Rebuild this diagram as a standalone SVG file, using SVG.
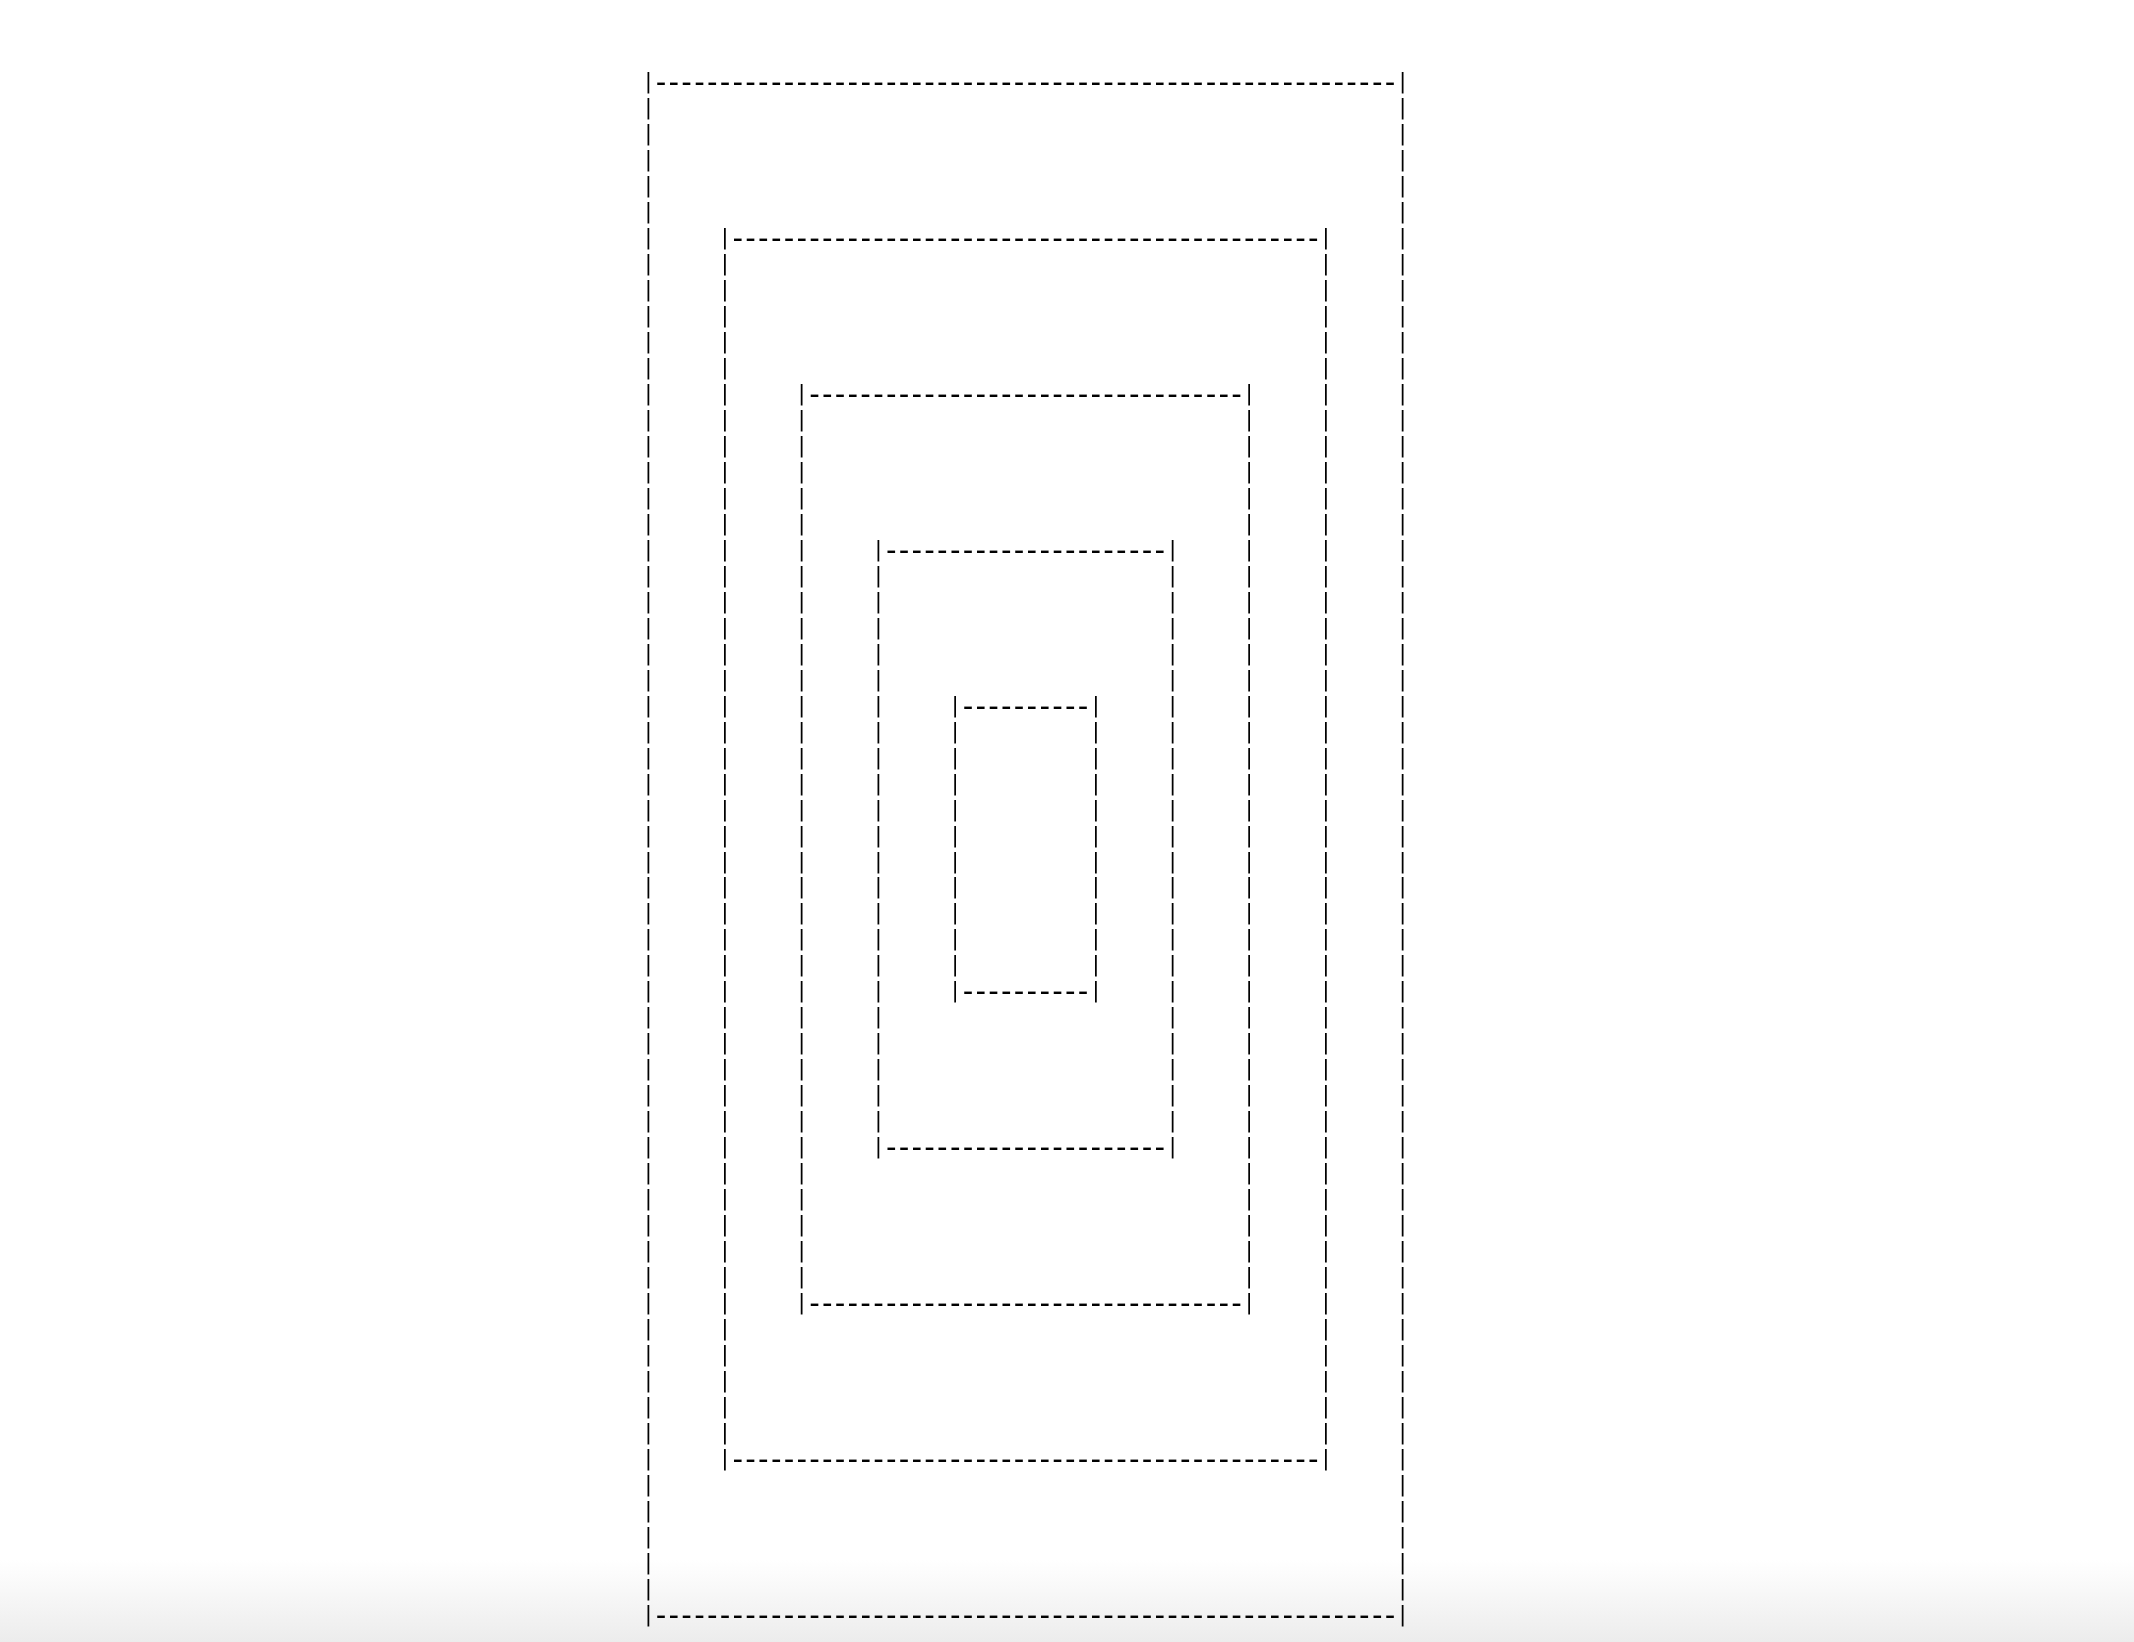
<svg xmlns="http://www.w3.org/2000/svg" xmlns:xlink="http://www.w3.org/1999/xlink" width="2134" height="1642" viewBox="0 0 2134 1642">
<style>
.t{font-family:"DejaVu Sans Mono","Liberation Mono",monospace;font-size:21.24px;fill:#000;}
.d{font-family:"DejaVu Sans Mono","Liberation Mono",monospace;font-size:30px;letter-spacing:-5.274px;fill:#000;}
.box{opacity:0.999;}
</style>
<defs>
<linearGradient id="bot" x1="0" y1="0" x2="0" y2="1">
<stop offset="0" stop-color="#ffffff"/>
<stop offset="1" stop-color="#ececec"/>
</linearGradient>
<text id="bars0" class="t" x="0 0 0 0 0 0 0 0 0 0 0 0 0 0 0 0 0 0 0 0 0 0 0 0 0 0 0 0 0 0 0 0 0 0 0 0 0 0 0 0 0 0 0 0 0 0 0 0 0 0 0 0 0 0 0 0 0 0 0 0" y="89.9 115.87 141.84 167.81 193.78 219.75 245.72 271.69 297.66 323.63 349.6 375.57 401.54 427.51 453.48 479.45 505.42 531.39 557.36 583.33 609.3 635.27 661.24 687.21 713.18 739.15 765.12 791.09 817.06 843.03 869 894.97 920.94 946.91 972.88 998.85 1024.82 1050.79 1076.76 1102.73 1128.7 1154.67 1180.64 1206.61 1232.58 1258.55 1284.52 1310.49 1336.46 1362.43 1388.4 1414.37 1440.34 1466.31 1492.28 1518.25 1544.22 1570.19 1596.16 1622.13">||||||||||||||||||||||||||||||||||||||||||||||||||||||||||||</text>
<text id="bars1" class="t" x="0 0 0 0 0 0 0 0 0 0 0 0 0 0 0 0 0 0 0 0 0 0 0 0 0 0 0 0 0 0 0 0 0 0 0 0 0 0 0 0 0 0 0 0 0 0 0 0" y="245.72 271.69 297.66 323.63 349.6 375.57 401.54 427.51 453.48 479.45 505.42 531.39 557.36 583.33 609.3 635.27 661.24 687.21 713.18 739.15 765.12 791.09 817.06 843.03 869 894.97 920.94 946.91 972.88 998.85 1024.82 1050.79 1076.76 1102.73 1128.7 1154.67 1180.64 1206.61 1232.58 1258.55 1284.52 1310.49 1336.46 1362.43 1388.4 1414.37 1440.34 1466.31">||||||||||||||||||||||||||||||||||||||||||||||||</text>
<text id="bars2" class="t" x="0 0 0 0 0 0 0 0 0 0 0 0 0 0 0 0 0 0 0 0 0 0 0 0 0 0 0 0 0 0 0 0 0 0 0 0" y="401.54 427.51 453.48 479.45 505.42 531.39 557.36 583.33 609.3 635.27 661.24 687.21 713.18 739.15 765.12 791.09 817.06 843.03 869 894.97 920.94 946.91 972.88 998.85 1024.82 1050.79 1076.76 1102.73 1128.7 1154.67 1180.64 1206.61 1232.58 1258.55 1284.52 1310.49">||||||||||||||||||||||||||||||||||||</text>
<text id="bars3" class="t" x="0 0 0 0 0 0 0 0 0 0 0 0 0 0 0 0 0 0 0 0 0 0 0 0" y="557.36 583.33 609.3 635.27 661.24 687.21 713.18 739.15 765.12 791.09 817.06 843.03 869 894.97 920.94 946.91 972.88 998.85 1024.82 1050.79 1076.76 1102.73 1128.7 1154.67">||||||||||||||||||||||||</text>
<text id="bars4" class="t" x="0 0 0 0 0 0 0 0 0 0 0 0" y="713.18 739.15 765.12 791.09 817.06 843.03 869 894.97 920.94 946.91 972.88 998.85">||||||||||||</text>
</defs>
<rect x="0" y="0" width="2134" height="1642" fill="#ffffff"/>
<rect x="0" y="1560" width="2134" height="82" fill="url(#bot)"/>

<g id="box1" class="box">
<use xlink:href="#bars0" href="#bars0" x="641.9" y="-1.5"/>
<use xlink:href="#bars0" href="#bars0" x="1396.27" y="-1.5"/>
<text class="d" x="652.05" y="92.31">----------------------------------------------------------</text>
<text class="d" x="652.05" y="1624.54">----------------------------------------------------------</text>
</g>

<g id="box2" class="box">
<use xlink:href="#bars1" href="#bars1" x="718.62" y="-1.5"/>
<use xlink:href="#bars1" href="#bars1" x="1319.56" y="-1.5"/>
<text class="d" x="728.77" y="248.13">----------------------------------------------</text>
<text class="d" x="728.77" y="1468.72">----------------------------------------------</text>
</g>

<g id="box3" class="box">
<use xlink:href="#bars2" href="#bars2" x="795.33" y="-1.5"/>
<use xlink:href="#bars2" href="#bars2" x="1242.84" y="-1.5"/>
<text class="d" x="805.48" y="403.95">----------------------------------</text>
<text class="d" x="805.48" y="1312.9">----------------------------------</text>
</g>

<g id="box4" class="box">
<use xlink:href="#bars3" href="#bars3" x="872.05" y="-1.5"/>
<use xlink:href="#bars3" href="#bars3" x="1166.13" y="-1.5"/>
<text class="d" x="882.2" y="559.77">----------------------</text>
<text class="d" x="882.2" y="1157.08">----------------------</text>
</g>

<g id="box5" class="box">
<use xlink:href="#bars4" href="#bars4" x="948.76" y="-1.5"/>
<use xlink:href="#bars4" href="#bars4" x="1089.41" y="-1.5"/>
<text class="d" x="958.91" y="715.59">----------</text>
<text class="d" x="958.91" y="1001.26">----------</text>
</g>

<g id="connectors"></g>
</svg>
